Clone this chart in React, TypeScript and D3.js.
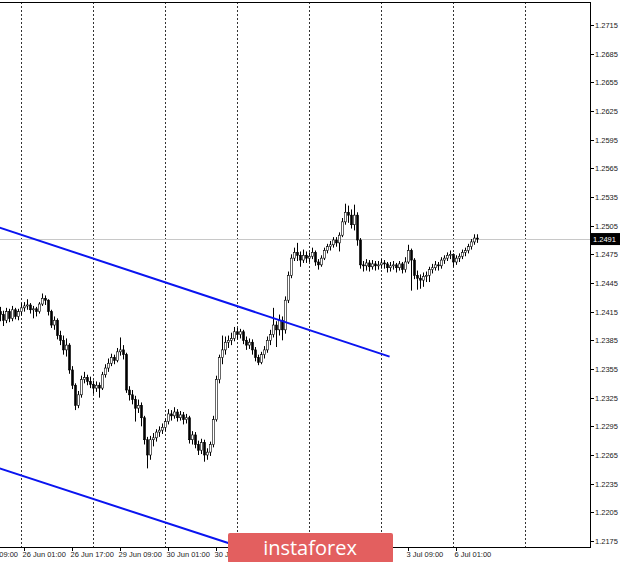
import React from "react";
import * as d3 from "d3";

// Hourly candles, 25 Jun 17:00 … 6 Jul 08:00
const firstOpen = 1.2415;
const closes = [
  1.2412, 1.2406, 1.2415, 1.2408, 1.2417, 1.2410, 1.2415,
  1.2419, 1.2421, 1.2422, 1.2417, 1.2418, 1.2415, 1.2423, 1.2429, 1.2427, 1.2415, 1.2401, 1.2406,
  1.2390, 1.2385, 1.2375, 1.2380, 1.2354, 1.2338, 1.2317, 1.2328, 1.2344, 1.2346, 1.2342, 1.2339,
  1.2335, 1.2338, 1.2335, 1.2349, 1.2356, 1.2361, 1.2367, 1.2364, 1.2373, 1.2375, 1.2370, 1.2333,
  1.2328, 1.2323, 1.2314, 1.2317, 1.2304, 1.2281, 1.2265, 1.2281, 1.2283, 1.2289, 1.2291, 1.2294,
  1.2300, 1.2308, 1.2306, 1.2310, 1.2304, 1.2307, 1.2302, 1.2304, 1.2281, 1.2286, 1.2276, 1.2270,
  1.2278, 1.2265, 1.2268, 1.2276, 1.2302, 1.2344, 1.2367, 1.2375, 1.2383, 1.2385, 1.2387, 1.2394,
  1.2391, 1.2394, 1.2385, 1.2380, 1.2383, 1.2375, 1.2367, 1.2362, 1.2370, 1.2375, 1.2385, 1.2391,
  1.2401, 1.2396, 1.2406, 1.2396, 1.2427, 1.2453, 1.2471, 1.2477, 1.2474, 1.2469, 1.2474, 1.2471,
  1.2473, 1.2477, 1.2467, 1.2464, 1.2471, 1.2479, 1.2483, 1.2485, 1.2490, 1.2487, 1.2495, 1.2509,
  1.2519, 1.2516, 1.2506, 1.2516, 1.2490, 1.2464, 1.2463, 1.2466, 1.2462, 1.2465, 1.2463, 1.2464,
  1.2466, 1.2465, 1.2461, 1.2463, 1.2464, 1.2461, 1.2465, 1.2459, 1.2467, 1.2479, 1.2469, 1.2453,
  1.2450, 1.2448, 1.2452, 1.2453, 1.2459, 1.2461, 1.2464, 1.2463, 1.2469, 1.2471, 1.2474, 1.2475,
  1.2467, 1.2471, 1.2473, 1.2477, 1.2479, 1.2483, 1.2488, 1.2492, 1.2491,
];
const highs = [
  1.2420, 1.2416, 1.2419, 1.2418, 1.2421, 1.2419, 1.2418,
  1.2424, 1.2425, 1.2428, 1.2424, 1.2421, 1.2420, 1.2425, 1.2434, 1.2432, 1.2428, 1.2417, 1.2410,
  1.2408, 1.2395, 1.2390, 1.2387, 1.2382, 1.2358, 1.2340, 1.2332, 1.2348, 1.2352, 1.2349, 1.2347,
  1.2343, 1.2342, 1.2341, 1.2352, 1.2360, 1.2366, 1.2371, 1.2370, 1.2377, 1.2388, 1.2380, 1.2372,
  1.2337, 1.2333, 1.2327, 1.2323, 1.2320, 1.2306, 1.2284, 1.2285, 1.2288, 1.2292, 1.2295, 1.2298,
  1.2303, 1.2313, 1.2312, 1.2315, 1.2313, 1.2311, 1.2310, 1.2308, 1.2306, 1.2290, 1.2289, 1.2280,
  1.2282, 1.2281, 1.2272, 1.2279, 1.2306, 1.2348, 1.2370, 1.2390, 1.2389, 1.2390, 1.2393, 1.2399,
  1.2398, 1.2397, 1.2396, 1.2389, 1.2387, 1.2386, 1.2378, 1.2370, 1.2373, 1.2379, 1.2389, 1.2396,
  1.2419, 1.2405, 1.2412, 1.2410, 1.2431, 1.2457, 1.2475, 1.2482, 1.2487, 1.2478, 1.2480, 1.2478,
  1.2477, 1.2482, 1.2479, 1.2470, 1.2474, 1.2482, 1.2486, 1.2489, 1.2493, 1.2493, 1.2498, 1.2513,
  1.2528, 1.2526, 1.2522, 1.2527, 1.2519, 1.2492, 1.2468, 1.2470, 1.2469, 1.2469, 1.2468, 1.2468,
  1.2470, 1.2469, 1.2467, 1.2467, 1.2468, 1.2466, 1.2468, 1.2467, 1.2472, 1.2485, 1.2481, 1.2471,
  1.2458, 1.2454, 1.2456, 1.2457, 1.2462, 1.2465, 1.2468, 1.2467, 1.2472, 1.2474, 1.2477, 1.2479,
  1.2476, 1.2474, 1.2476, 1.2480, 1.2482, 1.2486, 1.2491, 1.2496, 1.2496,
];
const lows = [
  1.2405, 1.2400, 1.2403, 1.2404, 1.2405, 1.2407, 1.2406,
  1.2411, 1.2415, 1.2417, 1.2413, 1.2408, 1.2410, 1.2413, 1.2421, 1.2422, 1.2411, 1.2398, 1.2396,
  1.2386, 1.2380, 1.2370, 1.2368, 1.2350, 1.2334, 1.2312, 1.2314, 1.2325, 1.2340, 1.2338, 1.2335,
  1.2329, 1.2331, 1.2325, 1.2333, 1.2346, 1.2352, 1.2358, 1.2360, 1.2362, 1.2369, 1.2365, 1.2330,
  1.2322, 1.2318, 1.2300, 1.2309, 1.2295, 1.2276, 1.2251, 1.2260, 1.2274, 1.2279, 1.2284, 1.2287,
  1.2290, 1.2297, 1.2301, 1.2303, 1.2300, 1.2301, 1.2297, 1.2298, 1.2277, 1.2276, 1.2272, 1.2265,
  1.2266, 1.2258, 1.2260, 1.2264, 1.2273, 1.2300, 1.2340, 1.2360, 1.2370, 1.2377, 1.2380, 1.2384,
  1.2386, 1.2387, 1.2381, 1.2375, 1.2376, 1.2370, 1.2363, 1.2359, 1.2360, 1.2366, 1.2372, 1.2380,
  1.2388, 1.2378, 1.2390, 1.2385, 1.2392, 1.2424, 1.2450, 1.2468, 1.2468, 1.2462, 1.2466, 1.2466,
  1.2467, 1.2470, 1.2463, 1.2459, 1.2462, 1.2469, 1.2476, 1.2479, 1.2482, 1.2483, 1.2478, 1.2493,
  1.2506, 1.2508, 1.2502, 1.2500, 1.2484, 1.2460, 1.2457, 1.2458, 1.2457, 1.2459, 1.2458, 1.2459,
  1.2460, 1.2460, 1.2456, 1.2457, 1.2459, 1.2456, 1.2458, 1.2455, 1.2456, 1.2465, 1.2437, 1.2449,
  1.2438, 1.2439, 1.2441, 1.2446, 1.2446, 1.2455, 1.2458, 1.2458, 1.2460, 1.2465, 1.2468, 1.2470,
  1.2462, 1.2464, 1.2467, 1.2470, 1.2473, 1.2476, 1.2480, 1.2485, 1.2487,
];

const priceTicks = [
  1.2175, 1.2205, 1.2235, 1.2265, 1.2295, 1.2325, 1.2355, 1.2385, 1.2415, 1.2445,
  1.2475, 1.2505, 1.2535, 1.2565, 1.2595, 1.2625, 1.2655, 1.2685, 1.2715,
];
const timeLabels = [
  "25 Jun 09:00", "26 Jun 01:00", "26 Jun 17:00", "29 Jun 09:00", "30 Jun 01:00", "30 Jun 17:00",
  "1 Jul 09:00", "2 Jul 01:00", "2 Jul 17:00", "3 Jul 09:00", "6 Jul 01:00",
];
const timeLabelBars = [-8, 8, 24, 40, 56, 72, 88, 104, 120, 136, 152];
const dayStartBars = [7, 31, 55, 79, 103, 127, 151, 175];
const currentPrice = 1.2491;
// trend channel: [barIndex, price] pairs
const upperLine = [[0, 1.2503], [130, 1.2368]];
const lowerLine = [[0, 1.2251], [79, 1.2170]];

const W = 620;
const H = 562;
const plotRight = 590;
const plotTop = 2;
const plotBottom = 547;
const wmX0 = 228;
const wmX1 = 393;

export default function App() {
  const x = d3.scaleLinear().domain([0, 160]).range([-0.4, 479.6]);
  const y = d3.scaleLinear().domain([1.2715, 1.2175]).range([25, 541]);
  const font = "'Liberation Sans', Arial, sans-serif";

  const candles = closes.map((c, i) => {
    const o = i === 0 ? firstOpen : closes[i - 1];
    const hi = Math.max(highs[i], o, c);
    const lo = Math.min(lows[i], o, c);
    return { i, o, c, hi, lo };
  });

  const line = d3.line<number[]>().x((d) => x(d[0])).y((d) => y(d[1]));
  const px = (v: number) => Math.round(v) + 0.5;

  return (
    <svg
      width={W}
      height={H}
      style={{ position: "absolute", left: 0, top: 0, background: "#fff" }}
    >
      <defs>
        <clipPath id="plot">
          <rect x={0} y={plotTop} width={plotRight} height={plotBottom - plotTop} />
        </clipPath>
      </defs>
      <rect x={0} y={0} width={W} height={H} fill="#fff" />

      {/* day separators */}
      {dayStartBars.map((b) => (
        <line
          key={"g" + b}
          x1={px(x(b))}
          x2={px(x(b))}
          y1={plotTop}
          y2={plotBottom}
          stroke="#333"
          strokeWidth={1}
          strokeDasharray="2 2"
        />
      ))}

      {/* current price line */}
      <line
        x1={0}
        x2={plotRight}
        y1={px(y(currentPrice))}
        y2={px(y(currentPrice))}
        stroke="#c8c8c8"
        strokeWidth={1}
      />

      <g clipPath="url(#plot)">
        {candles.map((d) => {
          const cx = px(x(d.i));
          const top = y(Math.max(d.o, d.c));
          const bot = y(Math.min(d.o, d.c));
          const bull = d.c >= d.o;
          return (
            <g key={d.i}>
              <line x1={cx} x2={cx} y1={y(d.hi)} y2={y(d.lo)} stroke="#000" strokeWidth={1} />
              <rect
                x={cx - 1}
                y={top}
                width={2}
                height={Math.max(1, bot - top)}
                fill={bull ? "#fff" : "#000"}
                stroke="#000"
                strokeWidth={0.6}
              />
            </g>
          );
        })}
        <path d={line(upperLine) || ""} stroke="#0a14f0" strokeWidth={2} fill="none" />
        <path d={line(lowerLine) || ""} stroke="#0a14f0" strokeWidth={2} fill="none" />
      </g>

      {/* frame */}
      <line x1={0} x2={plotRight + 0.5} y1={plotTop + 0.5} y2={plotTop + 0.5} stroke="#000" />
      <line x1={0} x2={plotRight + 0.5} y1={plotBottom + 0.5} y2={plotBottom + 0.5} stroke="#000" />
      <line x1={plotRight + 0.5} x2={plotRight + 0.5} y1={plotTop} y2={plotBottom + 1} stroke="#000" />

      {/* price axis */}
      {priceTicks.map((p) => (
        <g key={"p" + p}>
          <line x1={plotRight} x2={plotRight + 4} y1={px(y(p))} y2={px(y(p))} stroke="#000" />
          <text x={595} y={y(p) + 3} fontFamily={font} fontSize={7.5} fill="#222">
            {p.toFixed(4)}
          </text>
        </g>
      ))}
      <rect x={plotRight} y={y(currentPrice) - 6} width={30} height={12} fill="#000" />
      <text x={593} y={y(currentPrice) + 3} fontFamily={font} fontSize={7.5} fill="#fff">
        {currentPrice.toFixed(4)}
      </text>

      {/* time axis (labels under the watermark are hidden by it, as in the source) */}
      {timeLabelBars.map((b, k) => {
        const lx = x(b);
        const hidden = lx > wmX0 && lx + 40 < wmX1 + 8;
        return (
          <g key={"t" + b}>
            <line x1={px(lx)} x2={px(lx)} y1={plotBottom} y2={plotBottom + 4} stroke="#000" />
            {!hidden && (
              <text x={lx - 1} y={557} fontFamily={font} fontSize={7.5} fill="#222">
                {timeLabels[k]}
              </text>
            )}
          </g>
        );
      })}

      {/* watermark */}
      <rect x={wmX0} y={533} width={wmX1 - wmX0} height={30} rx={2} fill="#e35f5f" />
      <text
        x={310}
        y={555}
        textAnchor="middle"
        fontFamily="'Open Sans', 'Noto Sans', sans-serif"
        fontSize={20}
        fill="#fff"
      >
        instaforex
      </text>
    </svg>
  );
}
